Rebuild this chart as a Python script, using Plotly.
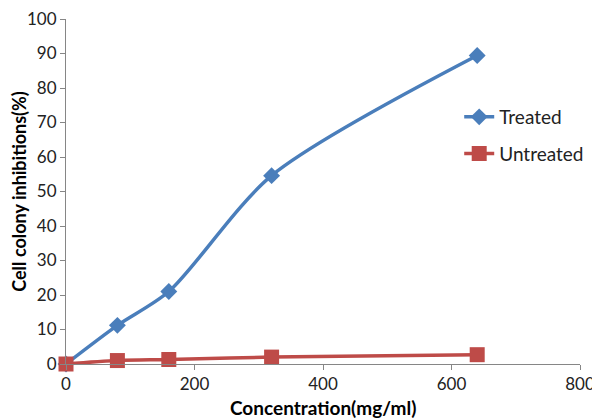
import plotly.graph_objects as go

concentration = [0, 80, 160, 320, 640]
treated = [0, 11.2, 21.0, 54.6, 89.4]
untreated = [0, 1.0, 1.3, 2.0, 2.7]
x_ticks = [0, 200, 400, 600, 800]
y_ticks = [0, 10, 20, 30, 40, 50, 60, 70, 80, 90, 100]

FONT = "Lato, 'Open Sans', sans-serif"

fig = go.Figure()
fig.add_trace(go.Scatter(
    x=concentration, y=treated, name="Treated", mode="lines+markers",
    line=dict(color="#4A7EBB", width=3.5, shape="spline", smoothing=0.8),
    marker=dict(symbol="diamond", size=13, color="#4A7EBB"),
    cliponaxis=False, legendgroup="a",
))
fig.add_trace(go.Scatter(
    x=concentration, y=untreated, name="Untreated", mode="lines+markers",
    line=dict(color="#BE4B48", width=3.5, shape="spline", smoothing=0.8),
    marker=dict(symbol="square", size=15, color="#BE4B48"),
    cliponaxis=False, legendgroup="b",
))

axis_common = dict(
    showgrid=False, zeroline=False, showline=True, linecolor="#868686", linewidth=1,
    ticks="outside", ticklen=5, tickcolor="#868686", automargin=False,
    ticklabeloverflow="allow",
    tickfont=dict(family=FONT, size=17, color="#222222"),
)

fig.update_layout(
    width=592, height=412,
    margin=dict(l=58, r=14, t=11, b=56),
    paper_bgcolor="white", plot_bgcolor="white",
    font=dict(family=FONT),
    xaxis=dict(range=[0, 800], tickvals=x_ticks, **axis_common),
    yaxis=dict(range=[0, 100], tickvals=y_ticks, **axis_common,
               title=dict(text="<b>Cell colony inhibitions(%)</b>", standoff=6,
                          font=dict(family=FONT, size=18, color="#000000"))),
    legend=dict(x=0.765, y=0.771, xanchor="left", yanchor="top",
                font=dict(family=FONT, size=19, color="#222222"),
                tracegroupgap=9, bgcolor="rgba(0,0,0,0)", itemwidth=30),
    showlegend=True,
    annotations=[dict(text="<b>Concentration(mg/ml)</b>", xref="paper", yref="paper",
                      x=0.5, y=-0.127, xanchor="center", yanchor="middle",
                      showarrow=False,
                      font=dict(family=FONT, size=19, color="#000000"))],
)

fig.write_html("out.html")
